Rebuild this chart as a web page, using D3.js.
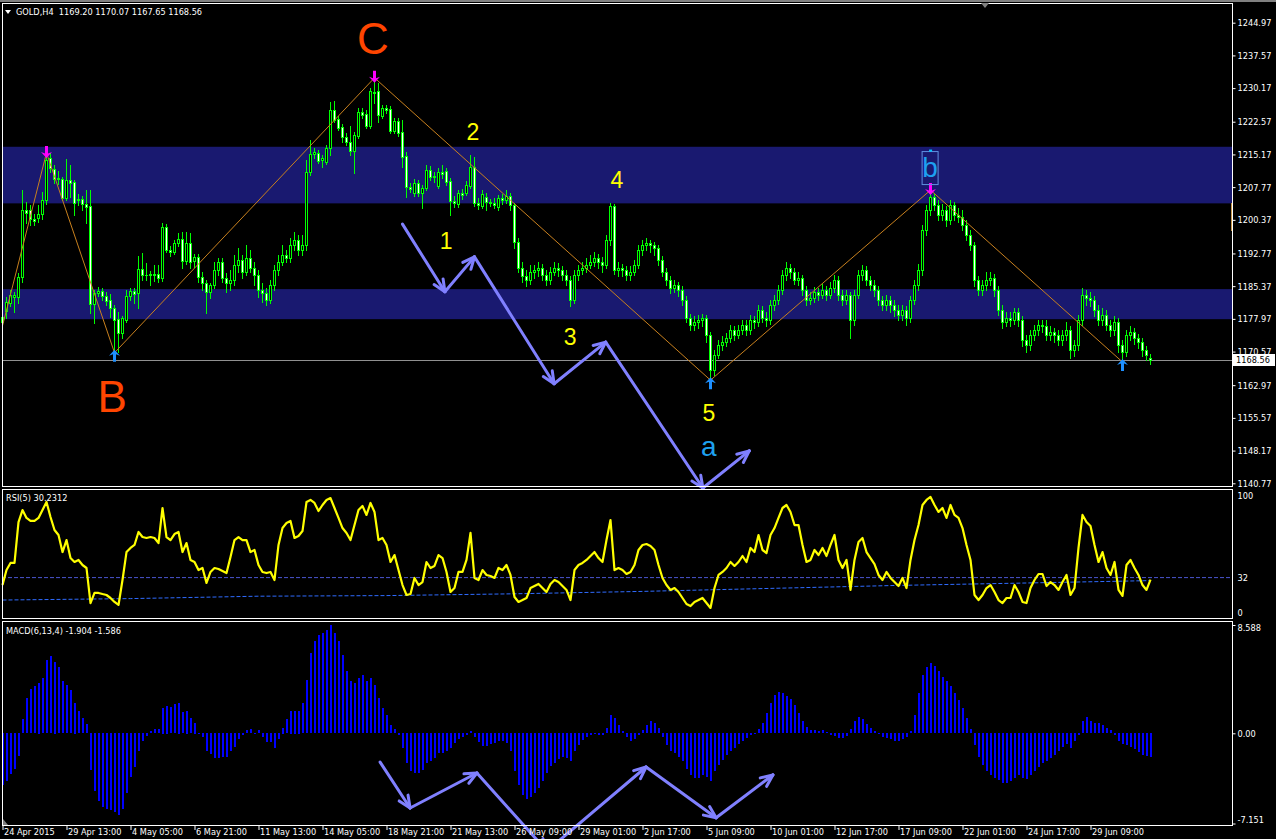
<!DOCTYPE html>
<html><head><meta charset="utf-8">
<script src="https://cdn.jsdelivr.net/npm/d3@7"></script>
<style>html,body{margin:0;padding:0;background:#000;overflow:hidden}svg{display:block}</style>
</head><body>
<svg id="c" width="1276" height="839"></svg>
<script>
// ---------------- DATA ----------------
const symbolTitle = "GOLD,H4  1169.20 1170.07 1167.65 1168.56";
const rsiTitle = "RSI(5) 30.2312";
const macdTitle = "MACD(6,13,4) -1.904 -1.586";
const bidPrice = 1168.56;

const opens = [
1177.3,1179.8,1181.6,1182.9,1182.9,1187.4,1202.6,1202.6,1200.6,1200.8,
1201.7,1204.9,1214.4,1211.9,1209.6,1209.6,1205.3,1209.4,1208.9,1204.9,
1205.1,1204.0,1203.5,1181.3,1183.8,1184.3,1183.1,1182.2,1180.4,1177.9,
1174.8,1177.7,1183.1,1184.3,1183.8,1189.3,1187.9,1187.9,1188.1,1188.1,
1187.2,1198.8,1193.5,1193.1,1195.1,1196.0,1191.1,1195.1,1191.1,1192.0,
1187.4,1186.1,1184.1,1185.6,1189.0,1190.8,1187.2,1186.1,1186.8,1190.2,
1191.3,1188.6,1191.7,1189.5,1187.9,1184.5,1183.8,1182.2,1185.6,1189.0,
1190.8,1192.4,1191.7,1194.7,1195.8,1193.5,1194.7,1211.2,1215.3,1215.5,
1213.9,1213.4,1216.6,1225.2,1223.2,1221.4,1219.1,1218.0,1215.9,1219.4,
1224.8,1224.3,1221.6,1229.3,1229.5,1223.9,1225.7,1225.5,1220.5,1222.7,
1220.3,1214.8,1207.8,1206.5,1208.7,1206.5,1207.6,1211.7,1210.1,1208.0,
1211.2,1211.4,1209.2,1204.6,1204.0,1206.5,1206.5,1208.0,1212.3,1204.2,
1203.5,1205.5,1204.4,1204.2,1203.3,1205.3,1204.9,1205.8,1203.7,1195.4,
1189.5,1187.7,1186.8,1188.6,1189.0,1189.5,1187.9,1186.8,1188.6,1189.5,
1189.0,1187.9,1186.8,1182.2,1187.9,1189.0,1189.5,1190.2,1190.8,1191.7,
1190.8,1190.2,1195.8,1203.5,1189.0,1189.5,1189.0,1187.9,1188.6,1190.2,
1193.5,1194.7,1195.1,1194.7,1194.0,1191.3,1188.6,1186.8,1185.0,1185.6,
1184.5,1182.2,1178.2,1176.6,1177.3,1177.7,1178.2,1174.3,1166.4,1169.8,
1172.1,1172.7,1173.6,1175.5,1174.3,1175.5,1176.6,1175.5,1177.7,1177.3,
1180.0,1178.2,1177.7,1181.1,1182.2,1184.5,1187.9,1189.5,1188.6,1186.8,
1187.2,1184.5,1182.2,1182.7,1184.1,1183.4,1184.5,1183.4,1185.0,1186.8,
1183.4,1182.2,1183.4,1177.7,1183.4,1187.9,1189.0,1186.8,1185.6,1184.5,
1182.2,1181.1,1182.2,1181.1,1180.0,1178.8,1180.0,1178.2,1182.2,1185.6,
1189.0,1198.1,1202.6,1205.5,1203.7,1201.5,1202.6,1200.3,1203.7,1201.5,
1201.0,1199.2,1197.0,1194.7,1186.8,1184.5,1185.6,1186.8,1187.2,1184.5,
1180.0,1177.3,1178.2,1177.7,1179.5,1177.7,1173.2,1172.1,1174.3,1175.5,
1176.6,1176.4,1174.3,1175.0,1174.3,1173.2,1174.3,1175.5,1170.9,1172.1,
1177.7,1183.4,1182.7,1182.2,1180.0,1177.7,1178.8,1176.6,1175.5,1177.3,
1172.1,1170.5,1174.3,1175.0,1173.6,1172.7,1170.9,1169.20];

const highs = [
1179.5,1182.9,1184.5,1184.1,1188.3,1207.1,1204.4,1203.7,1201.7,1203.7,
1206.7,1215.5,1215.5,1212.8,1211.4,1210.1,1214.1,1212.8,1209.4,1206.2,
1205.8,1207.1,1207.1,1184.5,1185.2,1185.0,1184.1,1183.6,1181.1,1179.5,
1178.6,1184.5,1185.0,1185.0,1192.2,1192.9,1190.6,1188.8,1190.2,1190.2,
1199.7,1199.4,1194.5,1195.8,1197.4,1197.6,1197.6,1197.4,1192.6,1192.6,
1188.6,1186.8,1186.1,1190.8,1191.7,1191.7,1188.3,1189.0,1192.4,1194.0,
1192.4,1194.7,1193.5,1190.8,1189.0,1186.1,1185.0,1186.8,1190.2,1192.4,
1194.7,1193.5,1196.3,1197.6,1197.0,1197.0,1213.9,1218.4,1216.6,1216.2,
1215.0,1217.3,1227.0,1227.3,1223.9,1222.1,1220.0,1221.6,1220.3,1225.7,
1225.7,1225.2,1230.2,1232.5,1231.3,1226.4,1226.4,1226.1,1223.4,1223.4,
1223.0,1215.7,1208.7,1209.6,1209.4,1208.3,1212.8,1212.5,1211.2,1212.1,
1212.8,1212.1,1209.8,1205.8,1207.1,1207.4,1209.2,1215.0,1214.6,1205.3,
1207.1,1206.5,1205.1,1205.3,1206.0,1206.2,1207.1,1206.5,1204.2,1196.3,
1190.8,1189.0,1190.2,1190.2,1190.8,1190.4,1189.0,1189.7,1190.8,1190.6,
1189.9,1189.0,1187.7,1189.0,1190.2,1190.8,1191.7,1192.4,1193.1,1192.6,
1192.0,1197.0,1204.2,1204.0,1190.8,1190.4,1189.9,1189.9,1191.3,1194.7,
1195.8,1196.3,1195.8,1195.4,1194.7,1192.2,1189.5,1187.7,1186.8,1186.3,
1185.4,1183.1,1179.1,1178.6,1178.8,1179.1,1178.8,1175.0,1170.9,1173.2,
1174.1,1174.8,1176.6,1176.4,1176.6,1177.7,1177.7,1178.8,1178.6,1181.1,
1180.9,1179.5,1182.2,1183.4,1185.6,1189.0,1190.8,1190.4,1189.5,1188.6,
1187.9,1185.4,1184.1,1185.2,1185.0,1185.9,1185.4,1186.3,1187.9,1187.7,
1184.5,1184.5,1184.1,1184.5,1189.0,1190.2,1189.9,1187.7,1186.8,1185.4,
1183.1,1183.4,1183.1,1182.2,1181.1,1181.1,1180.9,1183.1,1186.8,1190.4,
1199.2,1203.7,1207.1,1206.2,1204.9,1204.0,1203.5,1204.9,1204.4,1203.1,
1202.6,1200.3,1198.1,1195.4,1187.7,1186.8,1188.6,1188.6,1188.1,1185.4,
1181.1,1179.5,1179.5,1180.4,1180.4,1178.6,1174.3,1175.5,1176.6,1177.7,
1177.7,1177.7,1176.4,1175.9,1175.5,1175.5,1177.3,1176.4,1173.2,1178.8,
1185.0,1184.5,1184.1,1183.1,1181.1,1180.4,1180.0,1177.7,1178.6,1178.2,
1173.2,1175.5,1176.4,1175.9,1174.5,1173.6,1171.8,1170.07];

const lows = [
1176.4,1178.2,1180.9,1179.5,1181.6,1186.3,1199.7,1199.2,1199.2,1199.9,
1200.6,1204.0,1211.2,1208.7,1208.5,1204.9,1204.9,1205.5,1201.5,1203.7,
1202.6,1199.7,1179.3,1177.0,1183.1,1182.2,1181.1,1178.4,1170.3,1170.5,
1173.6,1177.3,1182.2,1181.6,1180.4,1186.8,1186.8,1185.6,1186.5,1186.3,
1186.5,1193.1,1192.2,1192.6,1194.5,1189.5,1190.4,1189.5,1189.7,1186.3,
1184.5,1179.3,1182.7,1185.0,1187.9,1186.3,1184.1,1184.5,1185.6,1188.6,
1187.2,1187.9,1188.6,1185.6,1182.9,1181.8,1181.1,1181.6,1184.5,1187.9,
1190.2,1190.8,1190.8,1193.5,1192.4,1192.4,1193.5,1210.5,1214.4,1213.2,
1212.3,1213.0,1215.0,1222.5,1220.7,1218.0,1217.3,1215.0,1211.0,1218.9,
1223.4,1221.2,1221.2,1226.8,1222.5,1223.4,1224.5,1220.0,1220.0,1219.4,
1212.3,1205.5,1206.7,1205.8,1205.8,1203.1,1207.1,1209.4,1208.9,1207.6,
1209.8,1208.3,1201.5,1203.3,1203.3,1205.1,1206.0,1207.6,1203.5,1202.8,
1203.1,1202.6,1203.5,1203.1,1202.6,1204.0,1204.2,1202.6,1194.0,1188.6,
1186.3,1185.4,1185.9,1187.2,1187.7,1186.8,1185.6,1185.9,1187.9,1187.7,
1186.8,1185.6,1180.9,1181.6,1186.8,1188.1,1188.6,1189.5,1189.9,1189.5,
1188.6,1189.5,1194.7,1188.1,1187.7,1187.7,1186.8,1186.8,1187.9,1189.5,
1192.4,1193.5,1193.1,1192.4,1190.2,1187.7,1185.6,1183.8,1184.1,1183.1,
1181.1,1177.3,1175.5,1175.5,1175.9,1176.4,1172.7,1164.1,1165.3,1169.1,
1170.9,1171.8,1172.7,1173.2,1173.6,1174.6,1174.3,1174.6,1175.9,1176.4,
1177.3,1176.4,1176.8,1180.0,1181.3,1183.6,1186.8,1187.2,1185.9,1185.6,
1183.4,1181.1,1181.3,1181.8,1182.2,1182.7,1182.2,1182.7,1184.1,1182.2,
1181.1,1181.3,1173.6,1176.6,1182.7,1186.8,1185.6,1184.5,1183.1,1181.1,
1180.0,1180.0,1179.5,1178.6,1177.7,1177.7,1176.6,1177.3,1181.3,1184.5,
1187.9,1197.0,1201.5,1202.6,1200.3,1200.3,1199.0,1199.4,1200.3,1199.9,
1198.1,1195.8,1193.5,1185.4,1183.4,1183.4,1184.5,1185.6,1183.1,1178.8,
1175.9,1176.4,1176.4,1176.8,1176.4,1171.8,1170.5,1170.9,1173.2,1174.3,
1175.0,1173.2,1173.2,1172.7,1172.1,1172.1,1173.2,1169.1,1169.6,1170.9,
1176.6,1181.1,1180.9,1178.6,1176.6,1176.6,1175.5,1174.1,1174.3,1170.5,
1168.2,1169.6,1173.2,1172.3,1171.4,1169.6,1168.7,1167.65];

const closes = [
1178.4,1181.8,1183.4,1183.4,1187.4,1202.6,1201.9,1200.6,1200.1,1201.7,
1204.9,1213.9,1212.1,1209.6,1209.8,1205.3,1209.4,1208.7,1204.2,1205.1,
1204.0,1203.3,1181.3,1183.8,1184.3,1183.1,1182.0,1180.4,1177.7,1174.8,
1178.2,1183.1,1184.3,1183.6,1189.3,1187.9,1187.8,1188.1,1187.9,1187.2,
1198.8,1193.5,1193.1,1195.1,1196.0,1191.1,1195.1,1190.8,1192.0,1187.4,
1186.1,1184.1,1185.6,1189.0,1190.8,1187.2,1186.1,1186.8,1190.2,1191.3,
1188.6,1191.7,1189.5,1187.9,1184.5,1183.8,1182.2,1185.6,1189.0,1190.8,
1192.4,1191.7,1194.7,1195.8,1193.5,1194.7,1211.2,1215.3,1215.7,1213.7,
1214.4,1216.6,1225.2,1223.0,1221.2,1219.1,1218.0,1215.9,1219.6,1224.8,
1224.1,1221.6,1229.5,1229.1,1224.1,1225.7,1225.2,1220.5,1222.7,1220.0,
1214.6,1207.8,1207.4,1208.7,1206.5,1207.6,1211.7,1210.1,1210.3,1211.2,
1210.7,1208.9,1204.6,1204.2,1206.5,1206.0,1208.3,1212.3,1204.2,1203.7,
1206.2,1204.4,1204.2,1203.7,1205.3,1204.9,1205.8,1203.7,1195.4,1189.5,
1187.7,1186.8,1188.6,1189.0,1189.5,1187.9,1186.8,1188.6,1189.5,1189.0,
1187.9,1186.8,1182.2,1187.9,1189.0,1189.5,1190.2,1190.8,1191.7,1190.8,
1190.2,1195.8,1203.5,1189.0,1189.5,1189.0,1187.9,1188.6,1190.2,1193.5,
1194.7,1195.1,1194.7,1194.0,1191.3,1188.6,1186.8,1185.0,1185.6,1184.5,
1182.2,1178.2,1176.6,1177.3,1177.7,1178.2,1174.3,1166.4,1169.8,1172.1,
1172.7,1173.6,1175.5,1174.3,1175.5,1176.6,1175.5,1177.7,1177.3,1180.0,
1178.2,1177.7,1181.1,1182.2,1184.5,1187.9,1189.5,1188.6,1186.8,1187.2,
1184.5,1182.2,1182.7,1184.1,1183.4,1184.5,1183.4,1185.0,1186.8,1183.4,
1182.2,1183.4,1177.7,1183.4,1187.9,1189.0,1186.8,1185.6,1184.5,1182.2,
1181.1,1182.2,1181.1,1180.0,1178.8,1180.0,1178.2,1182.2,1185.6,1189.0,
1198.1,1202.6,1205.5,1203.7,1201.5,1202.6,1200.3,1203.7,1201.5,1201.0,
1199.2,1197.0,1194.7,1186.8,1184.5,1185.6,1186.8,1187.2,1184.5,1180.0,
1177.3,1178.2,1177.7,1179.5,1177.7,1173.2,1172.1,1174.3,1175.5,1176.6,
1176.4,1174.3,1175.0,1174.3,1173.2,1174.3,1175.5,1170.9,1172.1,1177.7,
1183.4,1182.7,1182.2,1180.0,1177.7,1178.8,1176.6,1175.5,1177.3,1172.1,
1170.5,1174.3,1175.0,1173.6,1172.7,1170.9,1169.8,1168.56];

const rsi = [
25.8,38.3,44.2,44.2,78.3,88.3,81.7,79.2,79.2,81.7,
88.3,95.0,82.5,71.7,67.5,53.3,63.3,48.3,45.0,46.7,
42.5,40.0,10.8,19.2,19.2,18.3,17.5,15.0,11.7,9.2,
30.0,53.3,56.7,59.2,70.0,65.8,65.0,65.8,65.0,60.8,
90.0,65.8,63.3,68.3,70.0,53.3,60.8,46.7,45.0,38.3,
40.0,27.5,36.7,40.0,39.2,37.5,35.8,49.2,63.3,65.8,
63.3,63.3,53.3,55.0,42.5,36.7,35.8,36.7,30.0,59.2,
73.3,77.5,79.2,65.0,66.7,70.8,95.0,96.7,94.2,87.5,
92.5,96.7,98.3,90.0,81.7,73.3,69.2,63.3,75.8,88.3,
91.7,84.2,94.2,86.7,63.3,65.0,59.2,45.0,50.8,38.3,
25.8,17.5,18.3,31.7,25.8,28.3,45.0,40.0,41.7,50.8,
48.3,36.7,20.0,23.3,36.7,36.7,46.7,69.2,31.7,30.0,
38.3,34.2,33.3,31.7,40.0,38.3,42.5,34.2,15.8,11.7,
13.3,15.0,23.3,25.0,26.7,23.3,20.0,26.7,30.0,28.3,
25.0,21.7,13.3,38.3,42.5,44.2,46.7,50.0,53.3,48.3,
45.0,63.3,80.0,38.3,40.0,38.3,35.0,36.7,42.5,55.0,
59.2,60.0,58.3,55.0,42.5,31.7,25.8,21.7,23.3,20.0,
15.0,10.0,8.3,11.7,13.3,15.0,10.8,6.7,23.3,34.2,
36.7,40.0,45.0,41.7,45.0,50.0,45.0,56.7,53.3,67.5,
55.0,52.5,67.5,73.3,81.7,90.0,92.5,86.7,75.8,75.8,
59.2,45.0,46.7,55.0,50.8,56.7,50.0,59.2,67.5,46.7,
40.0,46.7,21.7,46.7,61.7,65.0,53.3,48.3,43.3,34.2,
30.0,36.7,31.7,28.3,25.0,31.7,23.3,46.7,63.3,75.8,
92.5,96.7,99.2,92.5,86.7,90.0,81.7,92.5,84.2,81.7,
73.3,59.2,46.7,17.5,13.3,17.5,23.3,25.8,20.0,13.3,
10.8,15.0,15.0,25.8,20.0,11.7,10.8,23.3,30.0,35.0,
35.0,25.0,28.3,25.8,21.7,28.3,34.2,17.5,23.3,56.7,
84.2,78.3,75.0,59.2,45.0,53.3,40.0,34.2,45.0,21.7,
16.7,42.5,46.7,40.0,34.2,25.8,21.7,30.23];

// slow signal line of the RSI window (read at a few bars)
const rsiSignalBars = [0,32,64,96,128,160,192,224,256,287];
const rsiSignalVals = [13.3,14.5,16.5,17.0,18.5,20.5,23.0,25.5,27.5,29.5];
const rsiLevel = 32;

const macd = [
-4.10,-3.78,-3.23,-2.83,-1.80,1.13,2.78,3.51,3.75,4.02,
4.36,5.81,6.13,5.69,5.23,4.15,3.83,3.43,2.43,1.77,
1.19,0.74,-2.91,-4.62,-5.42,-5.87,-6.00,-6.13,-6.26,-6.53,
-6.00,-4.76,-3.51,-2.72,-1.40,-0.66,-0.21,0.18,0.34,0.34,
2.04,2.20,2.06,2.32,2.43,1.69,1.80,1.19,0.85,-0.06,
-0.34,-1.40,-1.64,-1.98,-1.98,-1.90,-1.90,-1.45,-1.13,-0.45,
-0.18,0.26,0.32,-0.06,0.26,-0.34,-0.74,-0.74,-1.19,-0.48,
0.45,1.13,1.80,1.80,1.80,2.40,4.20,6.34,7.30,7.77,
7.93,8.17,8.588,7.93,7.30,6.19,4.92,4.12,3.97,4.36,
4.60,4.12,4.36,3.81,2.78,1.98,1.43,0.63,0.32,-0.16,
-1.19,-2.38,-3.01,-3.17,-3.17,-2.93,-2.38,-2.22,-1.98,-1.59,
-1.59,-1.43,-1.19,-0.79,-0.48,-0.32,-0.16,0.16,-0.32,-0.71,
-1.03,-1.03,-0.87,-0.79,-0.63,-0.63,-0.79,-1.43,-3.01,-4.12,
-4.92,-5.23,-5.08,-4.76,-4.36,-3.81,-3.17,-2.62,-2.38,-2.06,
-1.90,-1.98,-2.22,-1.43,-0.95,-0.56,-0.32,-0.16,-0.08,-0.16,
-0.16,0.40,1.43,1.19,0.63,0.16,-0.32,-0.63,-0.48,-0.16,
0.24,0.63,0.95,0.79,0.40,-0.32,-0.95,-1.43,-1.59,-1.90,
-2.22,-2.85,-3.33,-3.57,-3.57,-3.33,-3.49,-3.81,-3.01,-2.54,
-2.14,-1.74,-1.43,-1.19,-0.87,-0.63,-0.40,-0.16,0.04,0.32,
0.79,1.59,2.38,3.01,3.25,3.17,2.93,2.70,2.22,1.59,
0.95,0.48,0.24,0.24,0.16,0.24,0.08,-0.16,-0.24,-0.40,
-0.40,-0.24,0.32,0.95,1.27,1.11,0.71,0.40,0.16,-0.08,
-0.32,-0.40,-0.48,-0.63,-0.63,-0.48,-0.32,0.16,1.43,3.17,
4.60,5.23,5.55,5.31,4.92,4.44,4.12,3.73,3.17,2.62,
1.98,1.19,0.32,-0.95,-1.90,-2.54,-3.01,-3.33,-3.57,-3.73,
-3.97,-3.97,-3.81,-3.57,-3.33,-3.57,-3.65,-3.33,-3.01,-2.70,
-2.38,-2.22,-1.98,-1.74,-1.43,-1.11,-0.87,-1.19,-0.63,-0.16,
0.95,1.27,0.95,0.79,0.79,0.63,0.40,0.24,-0.16,-0.63,
-0.87,-0.95,-1.11,-1.27,-1.51,-1.74,-1.82,-1.904];

const priceTicks = [1244.97,1237.57,1230.17,1222.57,1215.17,1207.77,1200.37,1192.77,1185.37,1177.97,1170.57,1162.97,1155.57,1148.17,1140.77];
const rsiTicks = [100, 32, 0];
const macdTicks = [8.588, 0, -7.151];
const macdTickLabels = ["8.588", "0.00", "-7.151"];
const timeTickBars = [0,16,32,48,64,80,96,112,128,144,160,176,192,208,224,240,256,272];
const timeLabels = ["24 Apr 2015","29 Apr 13:00","4 May 05:00","6 May 21:00","11 May 13:00","14 May 05:00","18 May 21:00","21 May 13:00","26 May 09:00","29 May 01:00","2 Jun 17:00","5 Jun 09:00","10 Jun 01:00","12 Jun 17:00","17 Jun 09:00","22 Jun 01:00","24 Jun 17:00","29 Jun 09:00"];

// price zones (top, bottom)
const zoneTops = [1216.9, 1184.7];
const zoneBottoms = [1204.1, 1177.9];

// zigzag swing points (bar index, H = high / L = low)
const swingBars = [0, 11, 28, 93, 177, 232, 280];
const swingKinds = ["L","H","L","H","L","H","L"];

// wave annotations in (bar, price)
const waveText = ["C","B","1","2","3","4","5","a","b"];
const waveBar = [92.6, 27.4, 110.9, 117.6, 141.9, 153.6, 176.6, 176.6, 231.9];
const wavePrice = [1241.3, 1160.4, 1195.6, 1220.3, 1173.9, 1209.4, 1156.6, 1149.2, 1212.2];

// hand-drawn path in price window (bar, price)
const pathPriceBars = [100, 110.6, 118, 137.9, 150.8, 175.1, 186.7];
const pathPriceVals = [1199.4, 1184.1, 1192.0, 1163.3, 1172.7, 1139.7, 1148.1];
// hand-drawn path in MACD window (bar, value)
const pathMacdBars = [94.4, 101.9, 118.6, 136.1, 160.9, 178.4, 192.6];
const pathMacdVals = [-2.28, -5.92, -3.15, -9.33, -2.67, -6.70, -3.30];

// ---------------- LAYOUT ----------------
const N = closes.length;
const svg = d3.select("#c");
const L = 2, R = 1232;
const FONT = "DejaVu Sans, Verdana, sans-serif";

const xCol = d3.scaleLinear().domain([0, 287]).range([2, 1150]);
const xc = i => xCol(i) + 0.5;
const yP = d3.scaleLinear().domain([1140.77, 1244.97]).range([483.3, 22.7]);
const yR = d3.scaleLinear().domain([0, 100]).range([616, 496]);
const yM = d3.scaleLinear().domain([-7.151, 8.588]).range([823.5, 625]);

svg.append("rect").attr("width", 1276).attr("height", 839).attr("fill", "#000");
svg.append("rect").attr("x", 0).attr("y", 0).attr("width", 1276).attr("height", 2).attr("fill", "#808080");

// zones
svg.append("g").selectAll("rect").data(zoneTops).join("rect")
  .attr("x", L).attr("width", R - L)
  .attr("y", (d) => yP(d)).attr("height", (d, i) => yP(zoneBottoms[i]) - yP(d))
  .attr("fill", "#191970");
svg.append("rect").attr("x", 1231).attr("y", 203).attr("width", 2).attr("height", 28).attr("fill", "#c8964a");

// bid line
svg.append("line").attr("x1", L).attr("x2", R).attr("y1", Math.round(yP(bidPrice)) + 0.5).attr("y2", Math.round(yP(bidPrice)) + 0.5)
  .attr("stroke", "#909090").attr("stroke-width", 1);

// candles
const cg = svg.append("g").attr("shape-rendering", "crispEdges");
const idx = d3.range(N);
cg.selectAll("rect.w").data(idx).join("rect").attr("class", "w")
  .attr("x", i => Math.round(xCol(i))).attr("width", 1)
  .attr("y", i => Math.round(yP(highs[i])))
  .attr("height", i => Math.max(1, Math.round(yP(lows[i])) - Math.round(yP(highs[i])) + 1))
  .attr("fill", "#00ff00");
cg.selectAll("rect.b").data(idx).join("rect").attr("class", "b")
  .attr("x", i => Math.round(xCol(i)) - 1).attr("width", 3)
  .attr("y", i => Math.round(yP(Math.max(opens[i], closes[i]))))
  .attr("height", i => Math.max(1, Math.round(yP(Math.min(opens[i], closes[i]))) - Math.round(yP(Math.max(opens[i], closes[i]))) + 1))
  .attr("fill", "#00ff00");
cg.selectAll("rect.f").data(idx.filter(i => Math.round(yP(Math.min(opens[i], closes[i]))) - Math.round(yP(Math.max(opens[i], closes[i]))) >= 2)).join("rect").attr("class", "f")
  .attr("x", i => Math.round(xCol(i))).attr("width", 1)
  .attr("y", i => Math.round(yP(Math.max(opens[i], closes[i]))) + 1)
  .attr("height", i => Math.round(yP(Math.min(opens[i], closes[i]))) - Math.round(yP(Math.max(opens[i], closes[i]))) - 1)
  .attr("fill", i => closes[i] < opens[i] ? "#ffffff" : "#000000");

// zigzag
const swingVal = (b, k) => k === "H" ? highs[b] : lows[b];
svg.append("path").attr("fill", "none").attr("stroke", "#c8801e").attr("stroke-width", 1)
  .attr("d", d3.line().x((b) => xc(b)).y((b, j) => yP(swingVal(b, swingKinds[j])))(swingBars));

// fractal arrows
const downArrow = "M0,0 L-5.5,-6 L-1.5,-4.5 L-1.5,-12 L1.5,-12 L1.5,-4.5 L5.5,-6 Z";
const upArrow = "M0,0 L-5.5,6 L-1.5,4.5 L-1.5,12 L1.5,12 L1.5,4.5 L5.5,6 Z";
swingBars.forEach((b, j) => {
  if (j === 0) return;
  if (swingKinds[j] === "H") {
    svg.append("path").attr("d", downArrow).attr("fill", "#ff00ff")
      .attr("transform", `translate(${xc(b)},${yP(highs[b]) + 5})`);
  } else {
    svg.append("path").attr("d", upArrow).attr("fill", "#1e90ff")
      .attr("transform", `translate(${xc(b)},${yP(lows[b]) - 3})`);
  }
});

// wave labels
const waveColor = t => (t === "C" || t === "B") ? "#ff4500" : (t === "a" || t === "b") ? "#1ea0f0" : "#ffff00";
const waveSize = t => (t === "C" || t === "B") ? 44 : (t === "a" || t === "b") ? 28 : 23;
waveText.forEach((t, j) => {
  svg.append("text").text(t).attr("x", xc(waveBar[j])).attr("y", yP(wavePrice[j]))
    .attr("text-anchor", "middle").attr("dominant-baseline", "central")
    .attr("font-family", "Liberation Sans, Arial, sans-serif").attr("font-size", waveSize(t))
    .attr("fill", waveColor(t));
});
{ // box around "b"
  const bx = xc(waveBar[8]), by = yP(wavePrice[8]);
  svg.append("rect").attr("x", bx - 8).attr("y", by - 16).attr("width", 16).attr("height", 33)
    .attr("fill", "none").attr("stroke", "#5f8fe0").attr("stroke-width", 1);
  svg.append("rect").attr("x", bx - 1).attr("y", by - 18).attr("width", 3).attr("height", 2).attr("fill", "#00c8ff");
}

// hand-drawn arrow paths
function arrowPath(pts) {
  const g = svg.append("g").attr("stroke", "#8080ff").attr("stroke-width", 3).attr("stroke-linecap", "round").attr("fill", "none");
  for (let k = 1; k < pts.length; k++) {
    const [x1, y1] = pts[k - 1], [x2, y2] = pts[k];
    g.append("line").attr("x1", x1).attr("y1", y1).attr("x2", x2).attr("y2", y2);
    const a = Math.atan2(y2 - y1, x2 - x1), hl = 13, ha = 0.42;
    g.append("line").attr("x1", x2).attr("y1", y2).attr("x2", x2 - hl * Math.cos(a - ha)).attr("y2", y2 - hl * Math.sin(a - ha));
    g.append("line").attr("x1", x2).attr("y1", y2).attr("x2", x2 - hl * Math.cos(a + ha)).attr("y2", y2 - hl * Math.sin(a + ha));
  }
}

// RSI window
svg.append("line").attr("x1", L).attr("x2", R).attr("y1", yR(rsiLevel)).attr("y2", yR(rsiLevel))
  .attr("stroke", "#4a55d0").attr("stroke-width", 1).attr("stroke-dasharray", "4,2");
svg.append("path").attr("fill", "none").attr("stroke", "#2f6bff").attr("stroke-width", 1).attr("stroke-dasharray", "4,2")
  .attr("d", d3.line().x((b) => xc(b)).y((b, j) => yR(rsiSignalVals[j]))(rsiSignalBars));
svg.append("path").attr("fill", "none").attr("stroke", "#ffff00").attr("stroke-width", 2.2).attr("stroke-linejoin", "round")
  .attr("d", d3.line().x(i => xc(i)).y(i => yR(rsi[i]))(idx));

// MACD window
svg.append("g").attr("shape-rendering", "crispEdges").selectAll("rect").data(idx).join("rect")
  .attr("x", i => Math.round(xCol(i))).attr("width", 2)
  .attr("y", i => Math.round(Math.min(yM(0), yM(macd[i]))))
  .attr("height", i => Math.max(1, Math.round(Math.abs(yM(macd[i]) - yM(0)))))
  .attr("fill", "#0000ff");

arrowPath(pathPriceBars.map((b, j) => [xc(b), yP(pathPriceVals[j])]));
arrowPath(pathMacdBars.map((b, j) => [xc(b), yM(pathMacdVals[j])]));

// panel borders
const frame = svg.append("g").attr("fill", "none").attr("stroke", "#fff").attr("stroke-width", 1).attr("shape-rendering", "crispEdges");
frame.append("rect").attr("x", 2.5).attr("y", 3.5).attr("width", 1230).attr("height", 483);
frame.append("rect").attr("x", 2.5).attr("y", 489.5).attr("width", 1230).attr("height", 129);
frame.append("rect").attr("x", 2.5).attr("y", 621.5).attr("width", 1230).attr("height", 204);

// axes (right side)
const axPrice = d3.axisRight(yP).tickValues(priceTicks).tickSize(3).tickFormat(d3.format(".2f"));
const axRsi = d3.axisRight(yR).tickValues(rsiTicks).tickSize(0).tickFormat(d3.format("d"));
const axMacd = d3.axisRight(yM).tickValues(macdTicks).tickSize(3).tickFormat((d, i) => macdTickLabels[i]);
function styleAxis(g) {
  g.select(".domain").remove();
  g.selectAll("line").attr("stroke", "#fff");
  g.selectAll("text").attr("fill", "#fff").attr("font-family", FONT).attr("font-size", 8.2).attr("x", 5).attr("dy", "0.35em");
}
svg.append("g").attr("transform", "translate(1232.5,0)").call(axPrice).call(styleAxis);
svg.append("g").attr("transform", "translate(1232.5,0)").call(axRsi).call(styleAxis)
  .selectAll("text").attr("y", d => d === 0 ? -3 : 0);
svg.append("g").attr("transform", "translate(1232.5,0)").call(axMacd).call(styleAxis)
  .selectAll("text").attr("y", (d, i) => i === 0 ? 3 : (i === 2 ? -4 : 0));

// bid label
const by = Math.round(yP(bidPrice));
svg.append("rect").attr("x", 1233).attr("y", by - 6).attr("width", 42).attr("height", 12).attr("fill", "#fff");
svg.append("text").text(bidPrice.toFixed(2)).attr("x", 1236).attr("y", by).attr("dy", "0.35em")
  .attr("fill", "#000").attr("font-family", FONT).attr("font-size", 8.2);

// time axis
const tx = d3.scaleLinear().domain([0, 287]).range([2, 1150]);
const axTime = d3.axisBottom(tx).tickValues(timeTickBars).tickSize(4).tickFormat((d, i) => timeLabels[i]);
svg.append("g").attr("transform", "translate(0.5,826)").call(axTime).call(g => {
  g.select(".domain").remove();
  g.selectAll("line").attr("stroke", "#fff");
  g.selectAll("text").attr("fill", "#fff").attr("font-family", FONT).attr("font-size", 8.2)
    .attr("text-anchor", "start").attr("x", 1).attr("y", 3).attr("dy", "0.71em");
});

// window titles
svg.append("path").attr("d", "M5,10 L11,10 L8,14 Z").attr("fill", "#fff");
const title = (t, x, y) => svg.append("text").text(t).attr("x", x).attr("y", y).attr("dy", "0.35em")
  .attr("fill", "#fff").attr("font-family", FONT).attr("font-size", 8.2).attr("xml:space", "preserve");
title(symbolTitle, 16, 12.5);
title(rsiTitle, 6, 498.5);
title(macdTitle, 6, 631);

// chart shift marker and corner marker
svg.append("path").attr("d", "M981,3 L989,3 L985,8 Z").attr("fill", "#808080");
svg.append("path").attr("d", "M3,819 L3,825 L8,825 Z").attr("fill", "#808080");
</script>
</body></html>
